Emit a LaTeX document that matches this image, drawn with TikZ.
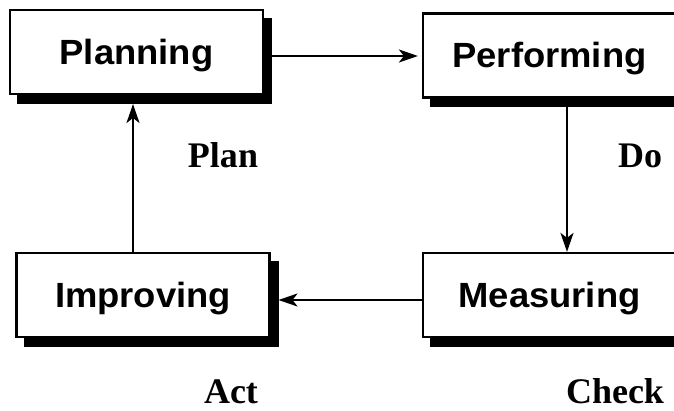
\documentclass[tikz,border=0pt]{standalone}
\usepackage{fontspec}
\setmainfont{Liberation Serif}
\newfontfamily\boxfont[FakeStretch=1.04]{Liberation Sans}
\usetikzlibrary{arrows.meta,calc}
\begin{document}
\begin{tikzpicture}[x=1pt,y=-1pt,
  stagebox/.style={draw=black,line width=2.2pt,fill=white,minimum width=253pt,minimum height=84pt,
    inner sep=0pt,font=\boxfont\bfseries\fontsize{35}{40}\selectfont,text height=25pt,text depth=0pt},
  stageshadow/.style={fill=black,minimum width=255pt,minimum height=86pt,inner sep=0pt,outer sep=0pt},
  flow/.style={line width=2.2pt,-{Stealth[length=19pt,width=13pt,inset=5pt]}},
  phase/.style={font=\bfseries\fontsize{36}{40}\selectfont,anchor=base,inner sep=0pt}]
\useasboundingbox (0,0) rectangle (674,411);
\clip (0,0) rectangle (674,411);

% drop shadows, drawn first
\node[stageshadow] (planS) at (144.5,61) {};
\node[stageshadow] (perfS) at (557.5,64.5) {};
\node[stageshadow] (imprS) at (151,304) {};
\node[stageshadow] (measS) at (557.5,304) {};

% the four stages
\node[stagebox] (plan) at (136.5,52) {Planning};
\node[stagebox] (perf) at (549.5,55.5) {Performing};
\node[stagebox] (impr) at (143,295) {Improving};
\node[stagebox] (meas) at (549.5,295) {Measuring};

% cycle
\draw[flow,shorten >=4pt] ([yshift=-4pt]plan.center -| planS.east) -- ([yshift=-4pt]plan.center -| perf.west);
\draw[flow] ([xshift=17.5pt]perf.center |- perfS.south) -- ([xshift=17.5pt]perf.center |- meas.north);
\draw[flow] ([yshift=-5pt]meas.center -| meas.west) -- ([yshift=-5pt]meas.center -| imprS.east);
\draw[flow] ([xshift=-10pt]impr.center |- impr.north) -- ([xshift=-10pt]impr.center |- planS.south);

% phase labels
\node[phase] (lplan) at (223,168) {Plan};
\node[phase] (ldo) at (640,168) {Do};
\node[phase] (lact) at (231,403) {Act};
\node[phase] (lcheck) at (615,403) {Check};
\end{tikzpicture}
\end{document}
